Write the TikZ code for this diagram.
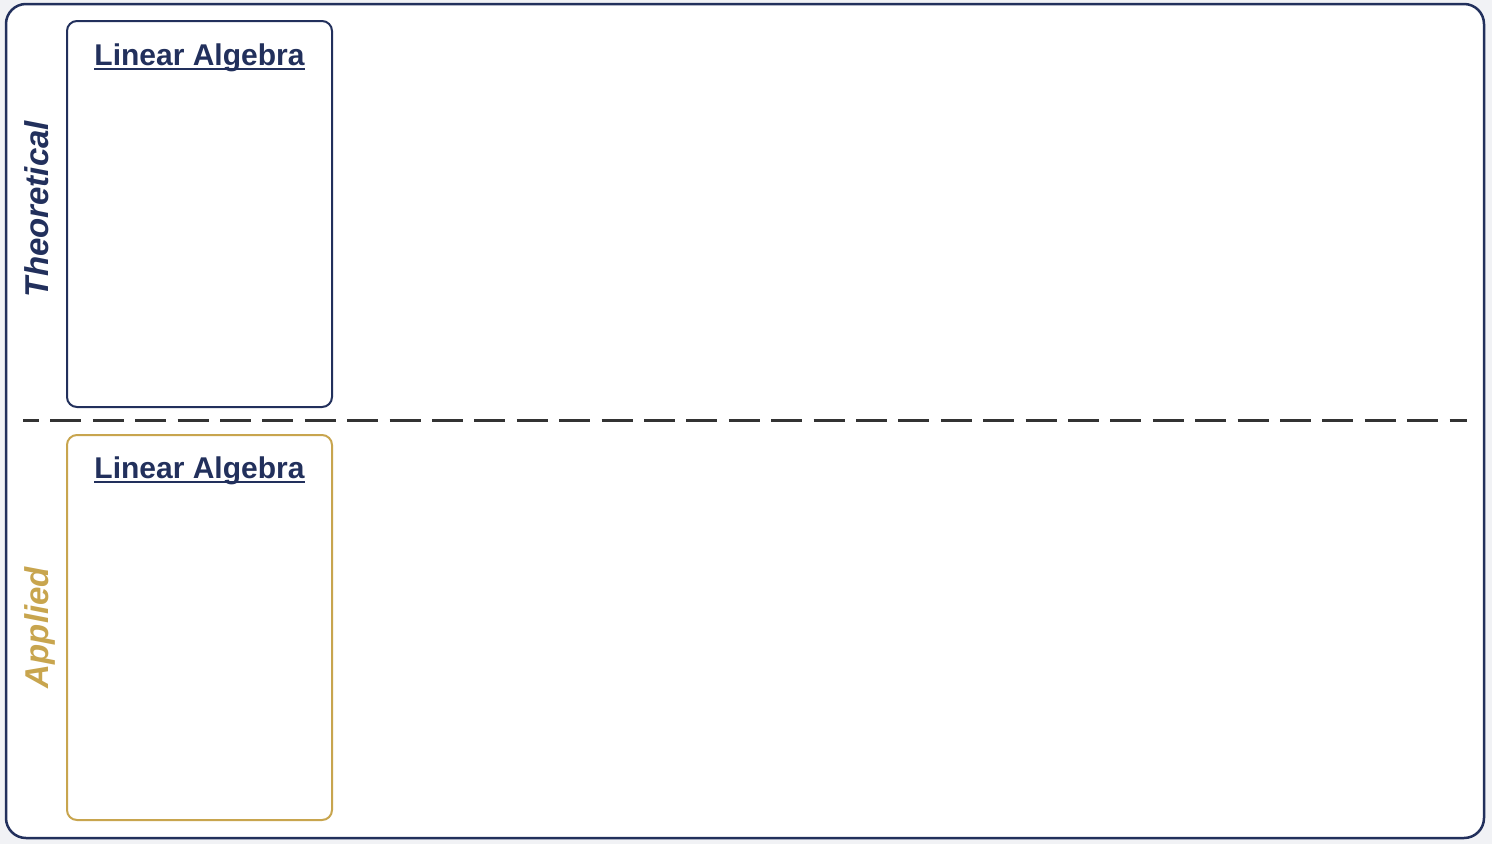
\documentclass[tikz,border=0pt]{standalone}
\usepackage{fontspec}
\setmainfont{Liberation Sans}
\definecolor{navy}{HTML}{22305C}
\definecolor{gold}{HTML}{C8A54E}
\definecolor{sepgray}{HTML}{333333}
\definecolor{pagebg}{HTML}{F1F2F5}
\tikzset{
  panel/.style={draw=navy, line width=2.5pt, rounded corners=20pt, fill=white, inner sep=0pt, outer sep=0pt},
  card/.style={line width=2pt, rounded corners=10pt, fill=white, inner sep=0pt, outer sep=0pt, minimum width=265pt},
  cardtitle/.style={text=navy, font=\fontsize{30}{36}\selectfont\bfseries, inner sep=0pt, anchor=base},
  uline/.style={draw=navy, line width=2pt},
  sidelabel/.style={font=\fontsize{33}{40}\selectfont\bfseries\itshape, rotate=90, anchor=base, inner sep=0pt},
  sep/.style={draw=sepgray, line width=3pt, dash pattern=on 31pt off 11.4pt, dash phase=15pt}
}
\begin{document}
\begin{tikzpicture}[x=1pt,y=-1pt]
\fill[pagebg] (0,0) rectangle (1492,844);
\useasboundingbox (0,0) rectangle (1492,844);
\node[panel, minimum width=1478pt, minimum height=834pt] (outer) at (745,421) {};
\node[card, draw=navy, minimum height=386pt] (theo) at (199.5,214) {};
\node[card, draw=gold, minimum height=385pt] (appl) at (199.5,627.5) {};
\node[cardtitle] (t1) at (199.5,65.5) {Linear Algebra};
\node[cardtitle] (t2) at (199.5,478.5) {Linear Algebra};
\draw[uline] ([yshift=-3.5pt]t1.base west) -- ([yshift=-3.5pt]t1.base east);
\draw[uline] ([yshift=-3.5pt]t2.base west) -- ([yshift=-3.5pt]t2.base east);
\node[sidelabel, text=navy] (lt) at (48,209) {Theoretical};
\node[sidelabel, text=gold] (la) at (48,627.5) {Applied};
\coordinate (s1) at (23,420);
\coordinate (s2) at (1467,420);
\draw[sep] (s1) -- (s2);
\end{tikzpicture}
\end{document}
